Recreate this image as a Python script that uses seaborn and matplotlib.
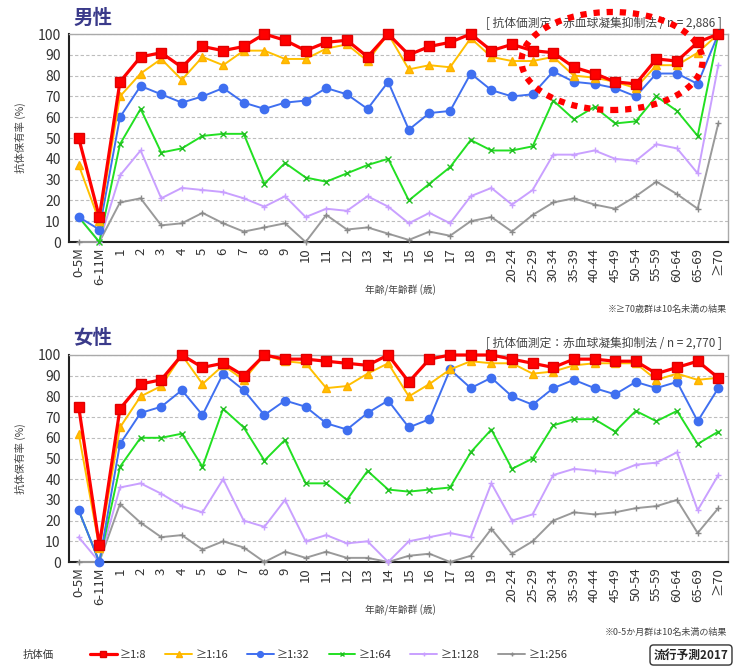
import numpy as np
import pandas as pd
import seaborn as sns
import matplotlib.pyplot as plt
from matplotlib.patches import Ellipse

ages = ["0-5M", "6-11M", "1", "2", "3", "4", "5", "6", "7", "8", "9", "10",
        "11", "12", "13", "14", "15", "16", "17", "18", "19",
        "20-24", "25-29", "30-34", "35-39", "40-44", "45-49", "50-54",
        "55-59", "60-64", "65-69", "≥70"]

titers = ["≥1:8", "≥1:16", "≥1:32", "≥1:64", "≥1:128", "≥1:256"]

# 男性
male_8 = [50, 12, 77, 89, 91, 84, 94, 92, 94, 100, 97, 92, 96, 97, 89, 100,
          90, 94, 96, 100, 92, 95, 92, 91, 84, 81, 77, 76, 88, 87, 96, 100]
male_16 = [37, 10, 70, 81, 88, 78, 89, 85, 92, 92, 88, 88, 93, 95, 87, 100,
           83, 85, 84, 98, 89, 87, 87, 89, 80, 79, 77, 74, 85, 85, 91, 100]
male_32 = [12, 6, 60, 75, 71, 67, 70, 74, 67, 64, 67, 68, 74, 71, 64, 77,
           54, 62, 63, 81, 73, 70, 71, 82, 77, 76, 74, 70, 81, 81, 76, 100]
male_64 = [12, 0, 47, 64, 43, 45, 51, 52, 52, 28, 38, 31, 29, 33, 37, 40,
           20, 28, 36, 49, 44, 44, 46, 68, 59, 65, 57, 58, 70, 63, 51, 100]
male_128 = [12, 0, 32, 44, 21, 26, 25, 24, 21, 17, 22, 12, 16, 15, 22, 17,
            9, 14, 9, 22, 26, 18, 25, 42, 42, 44, 40, 39, 47, 45, 33, 85]
male_256 = [0, 0, 19, 21, 8, 9, 14, 9, 5, 7, 9, 0, 13, 6, 7, 4,
            1, 5, 3, 10, 12, 5, 13, 19, 21, 18, 16, 22, 29, 23, 16, 57]

# 女性
female_8 = [75, 8, 74, 86, 88, 100, 94, 96, 90, 100, 98, 98, 97, 96, 95, 100,
            87, 98, 100, 100, 100, 98, 96, 94, 98, 98, 97, 97, 91, 94, 97, 89]
female_16 = [62, 7, 65, 80, 85, 100, 86, 95, 88, 100, 97, 96, 84, 85, 91, 96,
             80, 86, 93, 97, 96, 96, 91, 92, 95, 96, 96, 96, 88, 91, 88, 89]
female_32 = [25, 0, 57, 72, 75, 83, 71, 91, 83, 71, 78, 75, 67, 64, 72, 78,
             65, 69, 93, 84, 89, 80, 76, 84, 88, 84, 81, 87, 84, 87, 68, 84]
female_64 = [25, 0, 46, 60, 60, 62, 46, 74, 65, 49, 59, 38, 38, 30, 44, 35,
             34, 35, 36, 53, 64, 45, 50, 66, 69, 69, 63, 73, 68, 73, 57, 63]
female_128 = [12, 0, 36, 38, 33, 27, 24, 40, 20, 17, 30, 10, 13, 9, 10, 0,
              10, 12, 14, 12, 38, 20, 23, 42, 45, 44, 43, 47, 48, 53, 25, 42]
female_256 = [0, 0, 28, 19, 12, 13, 6, 10, 7, 0, 5, 2, 5, 2, 2, 0,
              3, 4, 0, 3, 16, 4, 10, 20, 24, 23, 24, 26, 27, 30, 14, 26]

male = [male_8, male_16, male_32, male_64, male_128, male_256]
female = [female_8, female_16, female_32, female_64, female_128, female_256]

styles = {
    "≥1:8":   dict(color="#FF0000", marker="s", ms=7, lw=2.3, mec="#E00000"),
    "≥1:16":  dict(color="#FFC000", marker="^", ms=5.5, lw=1.4, mec="#FFB000"),
    "≥1:32":  dict(color="#3F6FF0", marker="o", ms=6, lw=1.4, mec="#3F6FF0"),
    "≥1:64":  dict(color="#22E022", marker="x", ms=4.5, lw=1.4, mec="#22C022"),
    "≥1:128": dict(color="#C9A0FF", marker="+", ms=4.5, lw=1.4, mec="#C9A0FF"),
    "≥1:256": dict(color="#9A9A9A", marker="+", ms=4.5, lw=1.4, mec="#8A8A8A"),
}

sns.set_theme(style="white")
plt.rcParams["font.family"] = ["Noto Sans CJK JP", "DejaVu Sans"]

fig = plt.figure(figsize=(7.49, 6.66), dpi=100)
ax_m = fig.add_axes([69 / 749, 1 - 242 / 666, 659 / 749, 208 / 666])
ax_f = fig.add_axes([69 / 749, 1 - 562 / 666, 659 / 749, 207 / 666])

pos = np.arange(len(ages))


def draw_panel(ax, values):
    df = pd.DataFrame({"pos": pos})
    for name, vals in zip(titers, values):
        df[name] = vals
    long = df.melt(id_vars="pos", var_name="titer", value_name="rate")
    for name in titers[::-1]:
        st = styles[name]
        sns.lineplot(data=long[long["titer"] == name], x="pos", y="rate",
                     ax=ax, color=st["color"], marker=st["marker"],
                     markersize=st["ms"], linewidth=st["lw"],
                     markeredgecolor=st["mec"], markeredgewidth=1,
                     label=name, clip_on=False, zorder=3)
    ax.set_xlim(-0.47, len(ages) - 1 + 0.47)
    ax.set_ylim(0, 100)
    ax.set_yticks(range(0, 101, 10))
    ax.set_xticks(pos)
    ax.set_xticklabels(ages, rotation=90, fontsize=9.5, color="#333333")
    ax.tick_params(axis="y", labelsize=10, colors="#333333", length=0, pad=6)
    ax.tick_params(axis="x", length=0, pad=4)
    ax.set_xlabel("")
    ax.set_ylabel("抗体保有率 (%)", fontsize=7.5, color="#444444", labelpad=8)
    ax.yaxis.grid(True, color="#BDBDBD", linestyle=(0, (3, 2)), linewidth=0.8)
    ax.set_axisbelow(True)
    for s in ["left", "bottom"]:
        ax.spines[s].set_color("#222222")
        ax.spines[s].set_linewidth(1.5)
    for s in ["top", "right"]:
        ax.spines[s].set_color("#AAAAAA")
        ax.spines[s].set_linewidth(1.0)
    ax.get_legend().remove()


draw_panel(ax_m, male)
draw_panel(ax_f, female)

title_kw = dict(fontsize=14, fontweight="bold", color="#3A3A8A", va="center")
fig.text(73 / 749, 1 - 18 / 666, "男性", **title_kw)
fig.text(73 / 749, 1 - 338 / 666, "女性", **title_kw)

note_kw = dict(fontsize=8.5, color="#444444", ha="right", va="center")
fig.text(722 / 749, 1 - 23 / 666, "[ 抗体価測定：赤血球凝集抑制法 / n = 2,886 ]", **note_kw)
fig.text(722 / 749, 1 - 343 / 666, "[ 抗体価測定：赤血球凝集抑制法 / n = 2,770 ]", **note_kw)

xl_kw = dict(fontsize=7, color="#444444", ha="center", va="center")
fig.text(400 / 749, 1 - 290 / 666, "年齢/年齢群 (歳)", **xl_kw)
fig.text(400 / 749, 1 - 610 / 666, "年齢/年齢群 (歳)", **xl_kw)

sm_kw = dict(fontsize=6.5, color="#444444", ha="right", va="center")
fig.text(727 / 749, 1 - 309 / 666, "※≥70歳群は10名未満の結果", **sm_kw)
fig.text(727 / 749, 1 - 632 / 666, "※0-5か月群は10名未満の結果", **sm_kw)

# highlighted region in the male panel
fig.patches.append(Ellipse((612 / 749, 1 - 61 / 666), 181 / 749, 98 / 666,
                           transform=fig.transFigure, fill=False,
                           edgecolor="#FF0000", linewidth=4.5,
                           linestyle=(0, (1, 1.1)), zorder=10))

# legend row
fig.text(23 / 749, 1 - 655 / 666, "抗体価", fontsize=7.5, color="#333333",
         va="center")
handles, labels = ax_m.get_legend_handles_labels()
order = [labels.index(t) for t in titers]
leg = fig.legend([handles[i] for i in order], [labels[i] for i in order],
                 loc="center left", bbox_to_anchor=(80 / 749, 1 - 655 / 666),
                 ncol=6, frameon=False, fontsize=8, handlelength=2.4,
                 columnspacing=1.7, handletextpad=0.3, markerscale=0.7)
for t in leg.get_texts():
    t.set_color("#333333")

fig.text(691 / 749, 1 - 655 / 666, "流行予測2017", fontsize=8.5,
         fontweight="bold", style="italic", ha="center", va="center",
         bbox=dict(boxstyle="round,pad=0.3", fc="white", ec="#333333", lw=1))

fig.savefig("out.png", dpi=100)
